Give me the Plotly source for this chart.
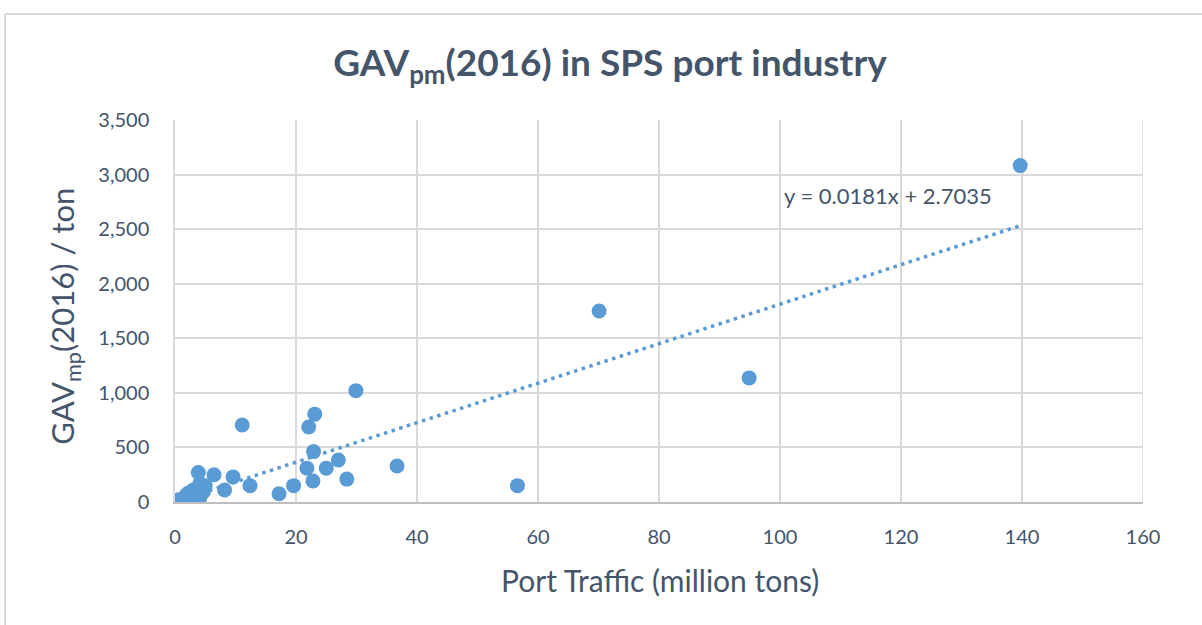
import plotly.graph_objects as go

# Data
port_traffic = [0.6, 1.8, 2.5, 2.2, 3.0, 3.6, 4.1, 4.1, 4.7, 3.85, 4.4, 5.0, 6.45, 8.2,
                9.6, 11.1, 12.4, 17.2, 19.6, 21.8, 22.1, 22.8, 22.9, 23.1, 25.0, 27.0,
                28.4, 29.9, 36.7, 56.6, 70.1, 94.9, 139.7]
gav_per_ton = [20, 60, 8, 82, 110, 49, 37, 171, 94, 270, 130, 150, 250, 110,
               230, 705, 150, 75, 150, 310, 687, 192, 462, 805, 310, 385,
               210, 1020, 330, 150, 1750, 1137, 3082]

# Trendline as labelled (x in thousand tons in the source)
trend_slope = 0.0181
trend_intercept = 2.7035
trend_label = "y = 0.0181x + 2.7035"

x_ticks = [0, 20, 40, 60, 80, 100, 120, 140, 160]
y_ticks = [0, 500, 1000, 1500, 2000, 2500, 3000, 3500]

TEXT = "#44546A"
GRID = "#D9D9D9"
BLUE = "#5B9BD5"
FONT = "Lato"

x_min, x_max = min(port_traffic), max(port_traffic)
trend_x = [x_min, x_max]
trend_y = [trend_slope * xv * 1000 + trend_intercept for xv in trend_x]

fig = go.Figure()
fig.add_trace(go.Scatter(
    x=trend_x, y=trend_y, mode="lines",
    line=dict(color=BLUE, width=3.5, dash="3.5px,4.5px"),
    hoverinfo="skip", showlegend=False))
fig.add_trace(go.Scatter(
    x=port_traffic, y=gav_per_ton, mode="markers",
    marker=dict(color=BLUE, size=15, line=dict(width=0)),
    showlegend=False))

fig.update_layout(
    width=1202, height=625,
    margin=dict(l=175, r=59, t=120, b=123),
    paper_bgcolor="white", plot_bgcolor="white",
    font=dict(family=FONT, color=TEXT),
    title=dict(text="<b>GAV<sub>pm</sub>(2016) in SPS port industry</b>",
               x=0.5075, y=0.899, xanchor="center", yanchor="middle",
               font=dict(size=37, color=TEXT, family=FONT)),
    xaxis=dict(range=[0, 160], tickvals=x_ticks, showgrid=True, gridcolor=GRID,
               gridwidth=1.5, zeroline=False, showline=True, linecolor="#BFBFBF",
               linewidth=1.5, mirror=False, ticks="", ticklabelstandoff=16,
               tickfont=dict(size=20, color=TEXT, family=FONT)),
    yaxis=dict(range=[0, 3500], tickvals=y_ticks, tickformat=",", showgrid=True,
               gridcolor=GRID, gridwidth=1.5, zeroline=False, showline=True,
               linecolor=GRID, linewidth=1.5, ticks="", ticklabelstandoff=20,
               tickfont=dict(size=20, color=TEXT, family=FONT)),
)

# Right border of plot area (grid at 160)
fig.add_shape(type="line", xref="x", yref="y", x0=160, x1=160, y0=0, y1=3500,
              line=dict(color=GRID, width=1.5), layer="below")
# chart frame (top and left edges)
fig.add_shape(type="line", xref="paper", yref="paper", x0=-0.1756, x1=1.2, y0=1.2775, y1=1.2775,
              line=dict(color=GRID, width=2))
fig.add_shape(type="line", xref="paper", yref="paper", x0=-0.1756, x1=-0.1756, y0=1.2775, y1=-0.5,
              line=dict(color=GRID, width=2))

fig.add_annotation(text="GAV<sub>mp</sub>(2016) / ton", xref="paper", yref="paper",
                   x=-0.1136, y=0.485, textangle=-90, showarrow=False,
                   xanchor="center", yanchor="middle",
                   font=dict(size=31, color=TEXT, family=FONT))
fig.add_annotation(text="Port Traffic (million tons)", xref="paper", yref="paper",
                   x=0.501, y=-0.204, showarrow=False, xanchor="center", yanchor="middle",
                   font=dict(size=30, color=TEXT, family=FONT))
fig.add_annotation(text=trend_label, xref="x", yref="y", x=117.9, y=2805,
                   showarrow=False, xanchor="center", yanchor="middle",
                   font=dict(size=22, color=TEXT, family=FONT))

fig.write_html(
    "out.html",
    config={"displayModeBar": False},
    post_script="document.body.style.margin='0';document.body.style.overflow='hidden';",
)
